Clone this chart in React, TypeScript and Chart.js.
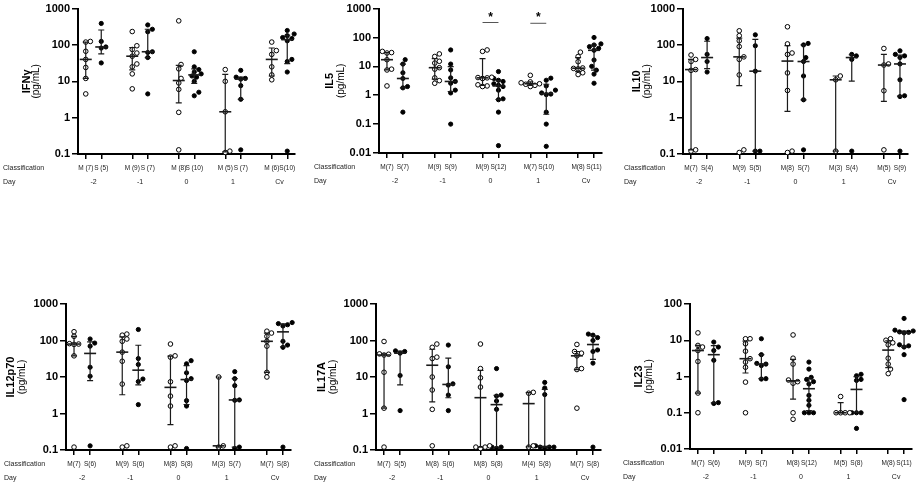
import { useEffect, useRef } from 'react'
import { Chart, registerables } from 'chart.js'

Chart.register(...registerables)

const days = ['-2', '-1', '0', '1', 'Cv']
const groupPositions = [0, 1, 3, 4, 6, 7, 9, 10, 12, 13]

const ticksTenthTo1000 = ['0.1', '1', '10', '100', '1000']
const ticksHundredthTo1000 = ['0.01', '0.1', '1', '10', '100', '1000']
const ticksHundredthTo100 = ['0.01', '0.1', '1', '10', '100']

// values per day (-2, -1, 0, 1, Cv), M = mild, S = severe
const ifngMild = [
  [125, 120, 67, 40, 24, 12, 4.5],
  [234, 95, 75, 60, 49, 30, 25, 16, 6.2],
  [460, 29, 22, 12, 9, 6, 1.4, 0.13],
  [21, 10, 1.45, 0.12, 0.11],
  [120, 70, 55, 25, 15, 11],
]
const ifngSevere = [
  [390, 125, 88, 82, 32],
  [355, 270, 230, 65, 62, 45, 4.5],
  [65, 25, 21, 18, 16, 14, 13, 10, 5, 4],
  [20, 13, 12, 11.5, 7.6, 3.2, 0.13],
  [250, 200, 180, 160, 150, 130, 40, 35, 18, 0.12],
]
const ifngLabels = ['M (7)', 'S (5)', 'M (9)', 'S (7)', 'M (8)', 'S (10)', 'M (5)', 'S (7)', 'M (6)', 'S(10)']

const il5Mild = [
  [33, 30, 29, 17, 8, 7.5, 2.1],
  [27, 22, 15, 13, 9, 8, 4, 3.2, 2.6],
  [37, 33, 4.2, 4.1, 4.0, 3.8, 2.3, 2.1, 2.0],
  [4.9, 2.9, 2.7, 2.5, 2.4, 2.2, 2.0],
  [31, 22, 14.5, 8.8, 8.5, 8.2, 6, 5.2],
]
const il5Severe = [
  [17, 12, 6, 3.8, 2.0, 1.8, 0.26],
  [37, 12, 7.5, 4, 3, 2.6, 1.5, 1.2, 0.1],
  [6.6, 3.8, 3.3, 3.0, 2.5, 2.2, 2.0, 1.5, 0.75, 0.7, 0.26, 0.018],
  [3.9, 3.3, 2.1, 1.5, 1.2, 1.1, 1.05, 0.26, 0.1, 0.017],
  [100, 60, 55, 48, 42, 36, 16.6, 10, 7.4, 5.4, 2.6],
]
const il5Labels = ['M(7)', 'S(7)', 'M(9)', 'S(9)', 'M(9)', 'S(12)', 'M(7)', 'S(10)', 'M(8)', 'S(11)']
const il5SigDays = [2, 3]
const il5SigLine = [330, 310]
const il5SigStar = [640, 620]

const il10Mild = [
  [53, 40, 35, 21, 20, 0.13, 0.12],
  [245, 180, 130, 90, 47, 40, 15, 0.13, 0.11],
  [316, 107, 60, 55, 17, 5.6, 0.12, 0.11],
  [14, 11, 0.12],
  [80, 30, 28, 5.5, 0.13],
]
const il10Severe = [
  [150, 55, 35, 18],
  [190, 95, 19, 0.12, 0.12],
  [110, 100, 45, 35, 14, 3.1, 0.13],
  [55, 50, 40, 0.12],
  [69, 55, 50, 45, 30, 11, 4, 3.8, 0.12],
]
const il10Labels = ['M(7)', 'S(4)', 'M(9)', 'S(5)', 'M(8)', 'S(7)', 'M(3)', 'S(4)', 'M(5)', 'S(9)']

const il12Mild = [
  [174, 130, 82, 80, 78, 38, 0.12],
  [150, 140, 110, 95, 48, 27, 6.4, 0.13, 0.12],
  [80, 38, 35, 7.4, 3, 1.6, 0.13, 0.12],
  [10, 0.13, 0.12],
  [180, 160, 130, 95, 70, 13.4, 10],
]
const il12Severe = [
  [110, 85, 70, 18.5, 10.5, 0.13],
  [200, 32, 22, 8.8, 7.5, 1.75],
  [28, 23, 13, 9, 8, 2.25, 1.6, 0.11],
  [14, 9, 5.8, 2.35, 2.3, 0.12, 0.11],
  [310, 290, 270, 250, 95, 75, 65, 0.12],
]
const il12Labels = ['M(7)', 'S(6)', 'M(9)', 'S(6)', 'M(8)', 'S(8)', 'M(3)', 'S(7)', 'M(7)', 'S(8)']

const il17Mild = [
  [94, 43, 42, 40, 13.5, 1.4, 0.12],
  [80, 65, 35, 32, 10, 4.4, 1.3, 0.13],
  [80, 17, 9.5, 5.3, 0.13, 0.12, 0.12, 0.11],
  [3.8, 3.6, 0.13, 0.12],
  [78, 50, 45, 38, 17, 16, 1.4],
]
const il17Severe = [
  [52, 50, 45, 11, 1.2],
  [75, 19, 6.5, 6, 3.2, 1.2],
  [17, 3.2, 3.0, 2.2, 1.3, 0.12, 0.12, 0.11],
  [7.1, 5, 3.3, 0.13, 0.12, 0.12, 0.12, 0.11],
  [150, 140, 120, 100, 55, 50, 24, 0.12],
]
const il17Labels = ['M(7)', 'S(5)', 'M(8)', 'S(6)', 'M(8)', 'S(8)', 'M(4)', 'S(8)', 'M(7)', 'S(8)']

const il23Mild = [
  [16, 7.2, 6.5, 5.2, 2.6, 0.35, 0.1],
  [11, 11, 8, 5, 3.1, 2.5, 1.8, 0.7, 0.1],
  [14, 3.2, 2.2, 0.8, 0.72, 0.65, 0.1, 0.066],
  [0.28, 0.1, 0.1, 0.1, 0.1],
  [11, 10, 8.5, 7.5, 3.2, 2.2, 1.6, 1.2],
]
const il23Severe = [
  [8.9, 6.5, 5.2, 2.8, 0.19, 0.18],
  [11, 4, 2.3, 2.2, 2.0, 0.87, 0.85],
  [2.5, 1.6, 0.95, 0.83, 0.72, 0.62, 0.3, 0.22, 0.16, 0.1, 0.1, 0.1],
  [1.15, 1.05, 0.83, 0.78, 0.1, 0.1, 0.1, 0.037],
  [40, 19, 18, 17, 16.5, 16, 7.5, 7, 6.5, 4, 0.23],
]
const il23Labels = ['M(7)', 'S(6)', 'M(9)', 'S(7)', 'M(8)', 'S(12)', 'M(5)', 'S(8)', 'M(8)', 'S(11)']

const FONT = '"Liberation Sans", Arial, sans-serif'

interface Box {
  x: number
  y: number
  w: number
  h: number
}

interface Area {
  l: number
  r: number
  t: number
  b: number
}

interface PanelSpec {
  title: string
  mild: number[][]
  severe: number[][]
  labels: string[]
  yTicks: string[]
  box: Box
  area: Area
  titleX: number
  unitX: number
  classX: number
  sigDays?: number[]
  sigLine?: number[]
  sigStar?: number[]
}

const panels: PanelSpec[] = [
  {
    title: 'IFNγ', mild: ifngMild, severe: ifngSevere, labels: ifngLabels, yTicks: ticksTenthTo1000,
    box: { x: 0, y: 0, w: 305, h: 195 }, area: { l: 78, r: 295, t: 7, b: 154 },
    titleX: 27, unitX: 36, classX: 3,
  },
  {
    title: 'IL5', mild: il5Mild, severe: il5Severe, labels: il5Labels, yTicks: ticksHundredthTo1000,
    box: { x: 305, y: 0, w: 305, h: 195 }, area: { l: 379, r: 602, t: 7, b: 153 },
    titleX: 330, unitX: 341, classX: 314,
    sigDays: il5SigDays, sigLine: il5SigLine, sigStar: il5SigStar,
  },
  {
    title: 'IL10', mild: il10Mild, severe: il10Severe, labels: il10Labels, yTicks: ticksTenthTo1000,
    box: { x: 610, y: 0, w: 307, h: 195 }, area: { l: 683, r: 908, t: 7, b: 154 },
    titleX: 637, unitX: 647, classX: 624,
  },
  {
    title: 'IL12p70', mild: il12Mild, severe: il12Severe, labels: il12Labels, yTicks: ticksTenthTo1000,
    box: { x: 0, y: 290, w: 305, h: 193 }, area: { l: 66, r: 291, t: 304, b: 450 },
    titleX: 11, unitX: 22, classX: 4,
  },
  {
    title: 'IL17A', mild: il17Mild, severe: il17Severe, labels: il17Labels, yTicks: ticksTenthTo1000,
    box: { x: 305, y: 290, w: 305, h: 193 }, area: { l: 376, r: 601, t: 304, b: 450 },
    titleX: 322, unitX: 333, classX: 314,
  },
  {
    title: 'IL23', mild: il23Mild, severe: il23Severe, labels: il23Labels, yTicks: ticksHundredthTo100,
    box: { x: 610, y: 290, w: 307, h: 193 }, area: { l: 690, r: 914, t: 304, b: 449 },
    titleX: 639, unitX: 649, classX: 623,
  },
]

const X_MIN = -0.5
const X_MAX = 13.5

// GraphPad-style percentile: position p * (n + 1)
function percentile(values: number[], p: number) {
  const sorted = [...values].sort((a, b) => a - b)
  const n = sorted.length
  const pos = p * (n + 1)
  if (pos <= 1) return sorted[0]
  if (pos >= n) return sorted[n - 1]
  const lo = Math.floor(pos)
  const frac = pos - lo
  return sorted[lo - 1] + frac * (sorted[lo] - sorted[lo - 1])
}

// simple deterministic beeswarm, returns x offsets in axis units
function swarm(values: number[], unitPx: number, decadePx: number) {
  const gap = 4.6
  const order = values.map((_, i) => i).sort((a, b) => values[a] - values[b])
  const placed: { x: number; y: number }[] = []
  const offsets = new Array(values.length).fill(0)
  for (const i of order) {
    const y = Math.log10(values[i]) * decadePx
    let chosen = 0
    for (let k = 0; k < 16; k++) {
      const step = Math.ceil(k / 2) * (k % 2 ? 1 : -1)
      const x = (step * gap) / 2
      if (placed.every((p) => Math.hypot(p.x - x, p.y - y) >= gap)) {
        chosen = x
        break
      }
    }
    placed.push({ x: chosen, y })
    offsets[i] = chosen / unitPx
  }
  return offsets
}

function CytokinePanel({ spec }: { spec: PanelSpec }) {
  const canvasRef = useRef<HTMLCanvasElement | null>(null)

  useEffect(() => {
    if (!canvasRef.current) return undefined

    const { box, area } = spec
    const yValues = spec.yTicks.map(Number)
    const yMin = yValues[0]
    const yMax = yValues[yValues.length - 1]
    const unitPx = (area.r - area.l) / (X_MAX - X_MIN)
    const decadePx = (area.b - area.t) / (Math.log10(yMax) - Math.log10(yMin))

    const groups: number[][] = []
    spec.mild.forEach((m, d) => {
      groups.push(m)
      groups.push(spec.severe[d])
    })

    const toPoints = (g: number) => {
      const offsets = swarm(groups[g], unitPx, decadePx)
      return groups[g].map((v, i) => ({ x: groupPositions[g] + offsets[i], y: v }))
    }

    const mildPoints = [0, 2, 4, 6, 8].flatMap(toPoints)
    const severePoints = [1, 3, 5, 7, 9].flatMap(toPoints)

    const overlay = {
      id: 'overlay',
      afterDatasetsDraw(chart: Chart) {
        const ctx = chart.ctx
        const xs = chart.scales.x
        const ys = chart.scales.y
        const ca = chart.chartArea
        const clampY = (v: number) => Math.min(ca.bottom, Math.max(ca.top, ys.getPixelForValue(v)))
        ctx.save()
        ctx.strokeStyle = '#1a1a1a'
        groups.forEach((vals, g) => {
          const x = xs.getPixelForValue(groupPositions[g])
          const med = percentile(vals, 0.5)
          const q1 = percentile(vals, 0.25)
          const q3 = percentile(vals, 0.75)
          const y1 = clampY(q1)
          const y3 = clampY(q3)
          ctx.lineWidth = 1.2
          ctx.beginPath()
          ctx.moveTo(x, y1)
          ctx.lineTo(x, y3)
          ctx.moveTo(x - 3, y1)
          ctx.lineTo(x + 3, y1)
          ctx.moveTo(x - 3, y3)
          ctx.lineTo(x + 3, y3)
          ctx.stroke()
          ctx.lineWidth = 1.6
          ctx.beginPath()
          const ym = clampY(med)
          ctx.moveTo(x - 6, ym)
          ctx.lineTo(x + 6, ym)
          ctx.stroke()
        })
        if (spec.sigDays && spec.sigLine && spec.sigStar) {
          spec.sigDays.forEach((d, i) => {
            const xa = xs.getPixelForValue(groupPositions[d * 2])
            const xb = xs.getPixelForValue(groupPositions[d * 2 + 1])
            const yl = ys.getPixelForValue(spec.sigLine![i])
            const yst = ys.getPixelForValue(spec.sigStar![i])
            ctx.strokeStyle = '#555'
            ctx.lineWidth = 1
            ctx.beginPath()
            ctx.moveTo(xa, yl)
            ctx.lineTo(xb, yl)
            ctx.stroke()
            ctx.fillStyle = '#000'
            ctx.font = `bold 12px ${FONT}`
            ctx.textAlign = 'center'
            ctx.textBaseline = 'middle'
            ctx.fillText('*', (xa + xb) / 2, yst + 3)
          })
        }
        ctx.restore()
      },
      afterDraw(chart: Chart) {
        const ctx = chart.ctx
        const ca = chart.chartArea
        const xs = chart.scales.x
        const midY = (ca.top + ca.bottom) / 2
        ctx.save()
        ctx.fillStyle = '#000'
        ctx.textAlign = 'center'
        ctx.textBaseline = 'middle'
        ctx.translate(spec.titleX - box.x, midY)
        ctx.rotate(-Math.PI / 2)
        ctx.font = `bold 11px ${FONT}`
        ctx.fillText(spec.title, 0, 0)
        ctx.font = `10px ${FONT}`
        ctx.fillText('(pg/mL)', 0, spec.unitX - spec.titleX)
        ctx.restore()

        ctx.save()
        ctx.fillStyle = '#222'
        ctx.font = `7px ${FONT}`
        ctx.textBaseline = 'middle'
        ctx.textAlign = 'left'
        ctx.fillText('Classification', spec.classX - box.x, ca.bottom + 14)
        ctx.fillText('Day', spec.classX - box.x, ca.bottom + 28)
        ctx.textAlign = 'center'
        days.forEach((day, d) => {
          const x = xs.getPixelForValue((groupPositions[d * 2] + groupPositions[d * 2 + 1]) / 2)
          ctx.fillText(day, x, ca.bottom + 28)
        })
        ctx.restore()
      },
    }

    const chart = new Chart(canvasRef.current, {
      type: 'scatter',
      data: {
        datasets: [
          {
            label: 'M',
            data: mildPoints,
            backgroundColor: '#ffffff',
            borderColor: '#000000',
            borderWidth: 1,
            pointRadius: 2.3,
            clip: false,
          },
          {
            label: 'S',
            data: severePoints,
            backgroundColor: '#000000',
            borderColor: '#000000',
            borderWidth: 1,
            pointRadius: 2.1,
            clip: false,
          },
        ],
      },
      options: {
        responsive: false,
        animation: false,
        events: [],
        layout: {
          padding: {
            left: 0,
            right: box.x + box.w - area.r,
            top: area.t - box.y,
            bottom: 0,
          },
        },
        plugins: {
          legend: { display: false },
          tooltip: { enabled: false },
        },
        scales: {
          x: {
            type: 'linear',
            min: X_MIN,
            max: X_MAX,
            afterBuildTicks: (scale) => {
              scale.ticks = groupPositions.map((v) => ({ value: v }))
            },
            afterFit: (scale) => {
              scale.height = box.y + box.h - area.b
            },
            ticks: {
              autoSkip: false,
              maxRotation: 0,
              minRotation: 0,
              padding: 5,
              color: '#222',
              font: { family: FONT, size: 6.5 },
              callback: (_value, index) => spec.labels[index],
            },
            grid: {
              display: true,
              drawOnChartArea: false,
              drawTicks: true,
              tickLength: 5,
              color: '#000',
              lineWidth: 1.5,
            },
            border: { display: true, color: '#000', width: 2 },
          },
          y: {
            type: 'logarithmic',
            min: yMin,
            max: yMax,
            afterBuildTicks: (scale) => {
              scale.ticks = yValues.map((v) => ({ value: v, major: true }))
            },
            afterFit: (scale) => {
              scale.width = area.l - box.x
            },
            ticks: {
              padding: 2,
              color: '#000',
              font: { family: FONT, size: 11, weight: 'bold' },
              callback: (_value, index) => spec.yTicks[index],
            },
            grid: {
              display: true,
              drawOnChartArea: false,
              drawTicks: true,
              tickLength: 6,
              color: '#000',
              lineWidth: 1.5,
            },
            border: { display: true, color: '#000', width: 2 },
          },
        },
      },
      plugins: [overlay],
    })

    return () => {
      chart.destroy()
    }
  }, [spec])

  return (
    <canvas
      ref={canvasRef}
      width={spec.box.w}
      height={spec.box.h}
      style={{ position: 'absolute', left: spec.box.x, top: spec.box.y }}
    />
  )
}

export default function App() {
  return (
    <div
      style={{
        position: 'absolute',
        left: 0,
        top: 0,
        width: 917,
        height: 483,
        background: '#ffffff',
        overflow: 'hidden',
      }}
    >
      {panels.map((spec) => (
        <CytokinePanel key={spec.title} spec={spec} />
      ))}
    </div>
  )
}
